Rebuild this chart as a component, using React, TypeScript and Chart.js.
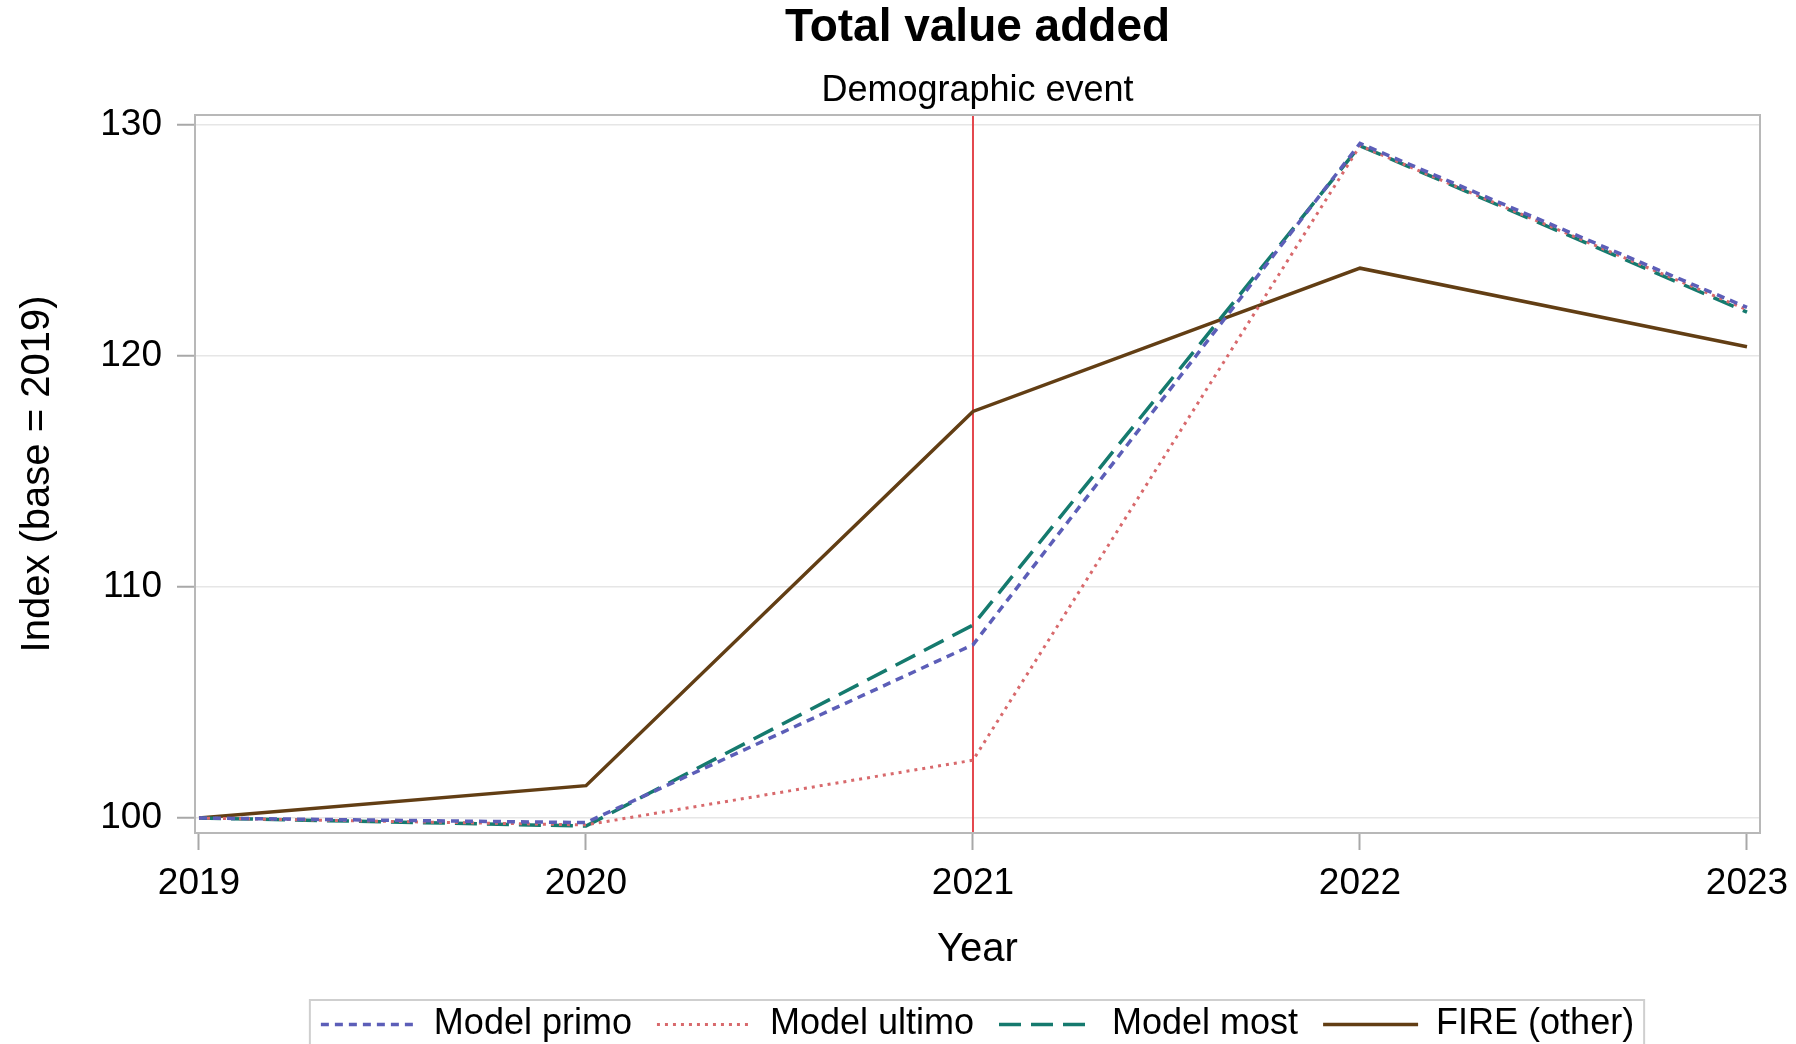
import React, { useEffect, useRef } from "react";
import { Chart, registerables } from "chart.js";

Chart.register(...registerables);

// ---- data ----
const YEARS = [2019, 2020, 2021, 2022, 2023];
const MODEL_PRIMO = [100, 99.8, 107.5, 129.2, 122.1];
const MODEL_ULTIMO = [100, 99.7, 102.5, 129.1, 122.0];
const MODEL_MOST = [100, 99.65, 108.35, 129.1, 121.9];
const FIRE_OTHER = [100, 101.4, 117.6, 123.8, 120.4];
const SERIES_LABELS = ["Model primo", "Model ultimo", "Model most", "FIRE (other)"];
const Y_TICKS = [100, 110, 120, 130];
const EVENT_YEAR = 2021;

const TITLE = "Total value added";
const SUBTITLE = "Demographic event";
const X_TITLE = "Year";
const Y_TITLE = "Index (base = 2019)";

// axis ranges
const X_MIN = 2018.9897;
const X_MAX = 2023.0336;
const Y_MIN = 99.35;
const Y_MAX = 130.43;

const FONT = "'Liberation Sans', Arial, Helvetica, sans-serif";

const toPoints = (vals: number[]) => YEARS.map((x, i) => ({ x, y: vals[i] }));

const decorPlugin = {
  id: "decor",
  beforeDatasetsDraw(chart: any) {
    const { ctx, chartArea, scales } = chart;
    const x = scales.x.getPixelForValue(EVENT_YEAR);
    ctx.save();
    ctx.strokeStyle = "#e4474d";
    ctx.lineWidth = 2;
    ctx.beginPath();
    ctx.moveTo(x, chartArea.top);
    ctx.lineTo(x, chartArea.bottom);
    ctx.stroke();
    ctx.restore();
  },
  afterDraw(chart: any) {
    const { ctx, chartArea } = chart;
    ctx.save();
    ctx.strokeStyle = "#b8b8b8";
    ctx.lineWidth = 2;
    ctx.strokeRect(chartArea.left, chartArea.top, chartArea.right - chartArea.left, chartArea.bottom - chartArea.top);
    const hb = chart.legend && chart.legend.legendHitBoxes;
    if (hb && hb.length) {
      const first = hb[0];
      const last = hb[hb.length - 1];
      const left = first.left - 11;
      const right = last.left + last.width + 10;
      const top = first.top + first.height / 2 - 24.5;
      ctx.strokeStyle = "#cfcfcf";
      ctx.lineWidth = 2;
      ctx.strokeRect(left, top, right - left, 70);
    }
    ctx.restore();
  },
};

export default function App() {
  const ref = useRef<HTMLCanvasElement>(null);

  useEffect(() => {
    const font = { family: FONT, size: 36 };
    const tickFont = { family: FONT, size: 37 };
    const axisTitleFont = { family: FONT, size: 40 };
    const mk = (label: string, vals: number[], color: string, dash: number[], width: number) => ({
      label,
      data: toPoints(vals),
      borderColor: color,
      backgroundColor: color,
      borderWidth: width,
      borderDash: dash,
      borderCapStyle: "butt",
      pointRadius: 0,
      pointHoverRadius: 0,
      pointStyle: "line",
      tension: 0,
      fill: false,
    });
    const chart = new Chart(ref.current as HTMLCanvasElement, {
      type: "line",
      data: {
        datasets: [
          mk(SERIES_LABELS[0], MODEL_PRIMO, "#5c5eb8", [8, 6], 3.5),
          mk(SERIES_LABELS[1], MODEL_ULTIMO, "#d8696c", [3, 5], 3),
          mk(SERIES_LABELS[2], MODEL_MOST, "#157a6e", [22, 10], 3.5),
          mk(SERIES_LABELS[3], FIRE_OTHER, "#623e14", [], 3.5),
        ] as any,
      },
      options: {
        animation: false,
        responsive: false,
        maintainAspectRatio: false,
        events: [],
        layout: { padding: { left: 0, right: 36, top: 0, bottom: 7.5 } },
        plugins: {
          title: {
            display: true,
            text: TITLE,
            fullSize: false,
            color: "#000",
            font: { family: FONT, size: 46, weight: "bold" },
            padding: { top: 0.4, bottom: 0 },
          },
          subtitle: {
            display: true,
            text: SUBTITLE,
            fullSize: false,
            color: "#000",
            font: { family: FONT, size: 36 },
            padding: { top: 13.4, bottom: 2.8 },
          },
          legend: {
            display: true,
            position: "bottom",
            fullSize: false,
            labels: {
              usePointStyle: true,
              pointStyle: "line",
              pointStyleWidth: 95,
              padding: 25,
              color: "#000",
              font,
              generateLabels: (c: any) => {
                const items = (Chart.defaults as any).plugins.legend.labels.generateLabels(c);
                return items.map((it: any) => {
                  const ds: any = c.data.datasets[it.datasetIndex];
                  return {
                    ...it,
                    pointStyle: "line",
                    lineDash: ds.borderDash,
                    lineWidth: ds.borderWidth,
                    strokeStyle: ds.borderColor,
                    fillStyle: ds.borderColor,
                    lineCap: "butt",
                  };
                });
              },
            },
          },
          tooltip: { enabled: false },
        },
        scales: {
          x: {
            type: "linear",
            min: X_MIN,
            max: X_MAX,
            afterBuildTicks: (s: any) => {
              s.ticks = YEARS.map((v) => ({ value: v }));
            },
            afterFit: (s: any) => {
              s.height = 148.5;
              s.paddingLeft = 0;
              s.paddingRight = 0;
            },
            ticks: {
              callback: (v: any) => String(v),
              color: "#000",
              font: tickFont,
              padding: 12,
              maxRotation: 0,
              autoSkip: false,
            },
            grid: {
              drawOnChartArea: false,
              drawTicks: true,
              tickLength: 17,
              tickColor: "#a8a8a8",
              tickWidth: 2,
            },
            border: { display: false },
            title: {
              display: true,
              text: X_TITLE,
              color: "#000",
              font: axisTitleFont,
              padding: { top: 20, bottom: 8 },
            },
          },
          y: {
            type: "linear",
            min: Y_MIN,
            max: Y_MAX,
            afterBuildTicks: (s: any) => {
              s.ticks = Y_TICKS.map((v) => ({ value: v }));
            },
            afterFit: (s: any) => {
              s.width = 195;
            },
            ticks: {
              callback: (v: any) => String(v),
              color: "#000",
              font: tickFont,
              padding: 15,
            },
            grid: {
              color: "#e6e6e6",
              lineWidth: 1.5,
              drawTicks: true,
              tickLength: 18,
              tickColor: "#a8a8a8",
              tickWidth: 2,
            },
            border: { display: false },
            title: {
              display: true,
              text: Y_TITLE,
              color: "#000",
              font: axisTitleFont,
              padding: { top: 14, bottom: 0 },
            },
          },
        },
      } as any,
      plugins: [decorPlugin],
    });
    return () => chart.destroy();
  }, []);

  return (
    <div
      style={{
        position: "fixed",
        left: 0,
        top: 0,
        width: 1796,
        height: 1044,
        overflow: "hidden",
        background: "#fff",
      }}
    >
      <canvas ref={ref} width={1796} height={1060} style={{ display: "block", width: 1796, height: 1060 }} />
    </div>
  );
}
